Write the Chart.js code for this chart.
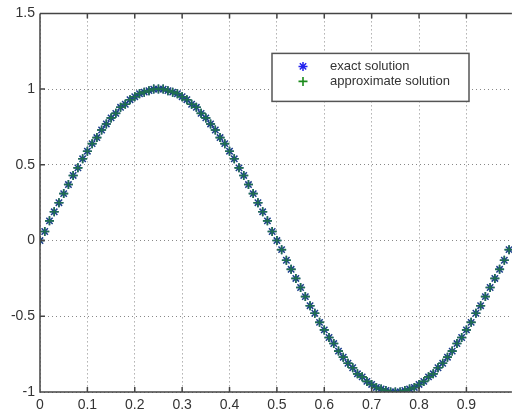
<!DOCTYPE html>
<html lang="en">
<head>
  <meta charset="UTF-8">
  <title>exact vs approximate solution</title>
  <script src="https://cdn.jsdelivr.net/npm/chart.js"></script>
  <style>
    html, body { margin: 0; padding: 0; background: #fff; }
    #wrap { width: 518px; height: 416px; }
  </style>
</head>
<body>
  <div id="wrap"><canvas id="grafico"></canvas></div>

<script>
  // valores (x de 0 a 0.99, passo 0.01)
  const xs = [
    0.00, 0.01, 0.02, 0.03, 0.04, 0.05, 0.06, 0.07, 0.08, 0.09,
    0.10, 0.11, 0.12, 0.13, 0.14, 0.15, 0.16, 0.17, 0.18, 0.19,
    0.20, 0.21, 0.22, 0.23, 0.24, 0.25, 0.26, 0.27, 0.28, 0.29,
    0.30, 0.31, 0.32, 0.33, 0.34, 0.35, 0.36, 0.37, 0.38, 0.39,
    0.40, 0.41, 0.42, 0.43, 0.44, 0.45, 0.46, 0.47, 0.48, 0.49,
    0.50, 0.51, 0.52, 0.53, 0.54, 0.55, 0.56, 0.57, 0.58, 0.59,
    0.60, 0.61, 0.62, 0.63, 0.64, 0.65, 0.66, 0.67, 0.68, 0.69,
    0.70, 0.71, 0.72, 0.73, 0.74, 0.75, 0.76, 0.77, 0.78, 0.79,
    0.80, 0.81, 0.82, 0.83, 0.84, 0.85, 0.86, 0.87, 0.88, 0.89,
    0.90, 0.91, 0.92, 0.93, 0.94, 0.95, 0.96, 0.97, 0.98, 0.99
  ];

  const exata = [
    0.00, 0.06, 0.13, 0.19, 0.25, 0.31, 0.37, 0.43, 0.48, 0.54,
    0.59, 0.64, 0.68, 0.73, 0.77, 0.81, 0.84, 0.88, 0.90, 0.93,
    0.95, 0.97, 0.98, 0.99, 1.00, 1.00, 1.00, 0.99, 0.98, 0.97,
    0.95, 0.93, 0.90, 0.88, 0.84, 0.81, 0.77, 0.73, 0.68, 0.64,
    0.59, 0.54, 0.48, 0.43, 0.37, 0.31, 0.25, 0.19, 0.13, 0.06,
    0.00, -0.06, -0.13, -0.19, -0.25, -0.31, -0.37, -0.43, -0.48, -0.54,
    -0.59, -0.64, -0.68, -0.73, -0.77, -0.81, -0.84, -0.88, -0.90, -0.93,
    -0.95, -0.97, -0.98, -0.99, -1.00, -1.00, -1.00, -0.99, -0.98, -0.97,
    -0.95, -0.93, -0.90, -0.88, -0.84, -0.81, -0.77, -0.73, -0.68, -0.64,
    -0.59, -0.54, -0.48, -0.43, -0.37, -0.31, -0.25, -0.19, -0.13, -0.06
  ];

  const aproximada = [
    0.00, 0.06, 0.13, 0.19, 0.25, 0.31, 0.37, 0.43, 0.48, 0.54,
    0.59, 0.64, 0.68, 0.73, 0.77, 0.81, 0.84, 0.88, 0.90, 0.93,
    0.95, 0.97, 0.98, 0.99, 1.00, 1.00, 1.00, 0.99, 0.98, 0.97,
    0.95, 0.93, 0.90, 0.88, 0.84, 0.81, 0.77, 0.73, 0.68, 0.64,
    0.59, 0.54, 0.48, 0.43, 0.37, 0.31, 0.25, 0.19, 0.13, 0.06,
    0.00, -0.06, -0.13, -0.19, -0.25, -0.31, -0.37, -0.43, -0.48, -0.54,
    -0.59, -0.64, -0.68, -0.73, -0.77, -0.81, -0.84, -0.88, -0.90, -0.93,
    -0.95, -0.97, -0.98, -0.99, -1.00, -1.00, -1.00, -0.99, -0.98, -0.97,
    -0.95, -0.93, -0.90, -0.88, -0.84, -0.81, -0.77, -0.73, -0.68, -0.64,
    -0.59, -0.54, -0.48, -0.43, -0.37, -0.31, -0.25, -0.19, -0.13, -0.06
  ];

  const rotulos = ['exact solution', 'approximate solution'];
  const ticksX = [0, 0.1, 0.2, 0.3, 0.4, 0.5, 0.6, 0.7, 0.8, 0.9];
  const ticksY = [-1, -0.5, 0, 0.5, 1, 1.5];

  const corEixo = '#444';
  const corGrade = '#888';
  const fonte = 'Liberation Sans, Arial, sans-serif';

  function pontos(ys) {
    return xs.map(function (x, i) { return { x: x, y: ys[i] }; });
  }

  // caixa da legenda dentro do gráfico, estilo matlab
  const legendaCaixa = {
    id: 'legendaCaixa',
    afterDraw(chart) {
      const ctx = chart.ctx;
      const area = chart.chartArea;
      const x0 = area.left + 232;
      const y0 = area.top + 40;
      const w = 197;
      const h = 48;
      ctx.save();
      ctx.fillStyle = '#fff';
      ctx.fillRect(x0, y0, w, h);
      ctx.strokeStyle = '#555';
      ctx.lineWidth = 1.5;
      ctx.strokeRect(x0, y0, w, h);
      ctx.font = '13px ' + fonte;
      ctx.textBaseline = 'middle';
      // legenda na ordem dos datasets
      chart.data.datasets.forEach(function (ds, i) {
        const cy = y0 + 13 + i * 15;
        ctx.strokeStyle = ds.legendColor;
        ctx.fillStyle = ds.legendColor;
        ctx.lineWidth = ds.pointBorderWidth;
        Chart.helpers.drawPoint(ctx, {
          pointStyle: ds.pointStyle,
          radius: ds.pointRadius,
          rotation: 0,
          borderWidth: ds.pointBorderWidth
        }, x0 + 31, cy);
        ctx.fillStyle = '#333';
        ctx.fillText(ds.label, x0 + 58, cy);
      });
      ctx.restore();
    }
  };

  // moldura superior e marcas internas dos ticks
  const moldura = {
    id: 'moldura',
    afterDatasetsDraw(chart) {
      const ctx = chart.ctx;
      const area = chart.chartArea;
      const sx = chart.scales.x;
      const sy = chart.scales.y;
      ctx.save();
      ctx.strokeStyle = corEixo;
      ctx.lineWidth = 1.5;
      ctx.beginPath();
      ctx.moveTo(area.left, area.top);
      ctx.lineTo(area.right, area.top);
      ctx.moveTo(area.left, area.top);
      ctx.lineTo(area.left, area.bottom);
      ctx.lineTo(area.right, area.bottom);
      ticksX.forEach(function (t) {
        const px = sx.getPixelForValue(t);
        ctx.moveTo(px, area.bottom);
        ctx.lineTo(px, area.bottom - 5);
        ctx.moveTo(px, area.top);
        ctx.lineTo(px, area.top + 5);
      });
      ticksY.forEach(function (t) {
        const py = sy.getPixelForValue(t);
        ctx.moveTo(area.left, py);
        ctx.lineTo(area.left + 5, py);
      });
      ctx.stroke();
      ctx.restore();
    }
  };

  const config = {
    type: 'scatter',
    data: {
      datasets: [
        {
          label: rotulos[0],
          data: pontos(exata),
          pointStyle: 'star',
          pointRadius: 4.5,
          pointBorderWidth: 1.5,
          borderColor: '#1c3f8c',
          backgroundColor: '#1c3f8c',
          legendColor: '#2222ee',
          showLine: false,
          order: 1
        },
        {
          label: rotulos[1],
          data: pontos(aproximada),
          pointStyle: 'cross',
          pointRadius: 4.5,
          pointBorderWidth: 1.6,
          borderColor: '#1f6e50',
          backgroundColor: '#1f6e50',
          legendColor: '#1b8a1b',
          showLine: false,
          order: 0
        }
      ]
    },
    options: {
      animation: false,
      responsive: true,
      maintainAspectRatio: false,
      layout: { padding: { top: 13, right: 0, left: 0, bottom: 0 } },
      plugins: {
        legend: { display: false },
        tooltip: { enabled: false }
      },
      scales: {
        x: {
          type: 'linear',
          min: 0,
          max: 0.996,
          afterFit: function (s) { s.height = 24; },
          afterBuildTicks: function (s) {
            s.ticks = ticksX.map(function (v) { return { value: v }; });
          },
          border: { display: false, dash: [1, 3] },
          grid: {
            color: corGrade,
            lineWidth: 1,
            drawTicks: false
          },
          ticks: {
            color: '#333',
            padding: 5,
            maxRotation: 0,
            autoSkip: false,
            font: { family: fonte, size: 14 },
            callback: function (v) { return String(v); }
          }
        },
        y: {
          type: 'linear',
          min: -1,
          max: 1.5,
          afterFit: function (s) { s.width = 40; },
          afterBuildTicks: function (s) {
            s.ticks = ticksY.map(function (v) { return { value: v }; });
          },
          border: { display: false, dash: [1, 3] },
          grid: {
            color: corGrade,
            lineWidth: 1,
            drawTicks: false
          },
          ticks: {
            color: '#333',
            padding: 5,
            font: { family: fonte, size: 14 },
            callback: function (v) { return String(v); }
          }
        }
      }
    },
    plugins: [moldura, legendaCaixa]
  };

  window.onload = () => {
    new Chart(document.getElementById('grafico'), config);
  };
</script>
</body>
</html>
